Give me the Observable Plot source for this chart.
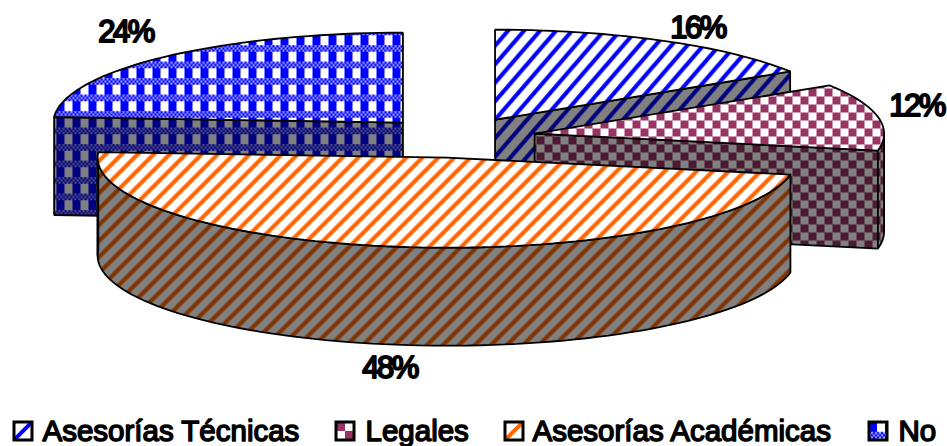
<!DOCTYPE html>
<html>
<head>
<meta charset="utf-8">
<script src="https://cdn.jsdelivr.net/npm/d3@7"></script>
<script src="https://cdn.jsdelivr.net/npm/@observablehq/plot@0.6"></script>
<style>
html,body{margin:0;padding:0;background:#fff}
svg{display:block}
svg text{font-family:"Liberation Sans",Arial,sans-serif}
</style>
</head>
<body>
<script>
// Data
const categories = ["Asesorías Técnicas", "Legales", "Asesorías Académicas", "No"];
const shares = [16, 12, 48, 24];

// Styles and layout
const W = 947, H = 446;
const CX = 456.5, CY = 137, RX = 349.5, RY = 90, DEPTH = 98, EXPLODE = 0.226;
const patternIds = ["pTec", "pLeg", "pAca", "pNo"];
const labelPos = [[697, 28], [916, 106], [389, 368], [125, 32]];
const legendSwatchX = [14, 336, 505, 869];
const legendTextX = [42, 365, 532, 898];

const rad = d => d * Math.PI / 180;
let acc = 0;
const slices = shares.map((v, i) => {
  const a0 = acc * 3.6; acc += v; const a1 = acc * 3.6;
  const mid = (a0 + a1) / 2;
  const ax = CX + EXPLODE * RX * Math.sin(rad(mid));
  const ay = CY - EXPLODE * RY * Math.cos(rad(mid));
  return {i, a0, a1, ax, ay, pattern: patternIds[i]};
});
const pt = (s, a, dz = 0) => ({x: s.ax + RX * Math.sin(rad(a)), y: s.ay - RY * Math.cos(rad(a)) + dz});
const arc = (s, a0, a1, dz = 0) => {
  const n = Math.max(2, Math.ceil(Math.abs(a1 - a0) / 2));
  return d3.range(n + 1).map(k => pt(s, a0 + (a1 - a0) * k / n, dz));
};
const closed = p => [...p, p[0]];
const face = (p, fill) => Plot.line(closed(p), {x: "x", y: "y", fill, stroke: "#000", strokeWidth: 1.8, strokeLinejoin: "miter", curve: "linear"});

const marks = [];
for (const s of [slices[3], slices[0], slices[1], slices[2]]) {
  const wallFill = `url(#${s.pattern}W)`;
  const apexTop = {x: s.ax, y: s.ay}, apexBot = {x: s.ax, y: s.ay + DEPTH};
  const wall = a => marks.push(face([apexTop, pt(s, a), pt(s, a, DEPTH), apexBot], wallFill));
  if (Math.sin(rad(s.a0)) < -1e-6) wall(s.a0);
  if (Math.sin(rad(s.a1)) > 1e-6) wall(s.a1);
  const o0 = Math.max(s.a0, 90), o1 = Math.min(s.a1, 270);
  if (o1 > o0) marks.push(face([...arc(s, o0, o1), ...arc(s, o1, o0, DEPTH)], wallFill));
  if (s.i === 2) { // left end of the large slice's rim, past 270 degrees
    marks.push(face([...arc(s, 270, s.a1), ...arc(s, s.a1, 270, DEPTH)], wallFill));
  }
  marks.push(face([apexTop, ...arc(s, s.a0, s.a1)], `url(#${s.pattern})`));
}

const labels = shares.map((v, i) => ({t: `${v}%`, x: labelPos[i][0], y: labelPos[i][1]}));
const legend = categories.map((c, i) => ({c, x: legendTextX[i], sx: legendSwatchX[i], id: patternIds[i]}));

const svg = Plot.plot({
  width: W, height: H, margin: 0,
  x: {domain: [0, W], range: [0, W], axis: null},
  y: {domain: [0, H], range: [0, H], axis: null},
  marks: [
    ...marks,
    Plot.text(labels, {x: "x", y: "y", text: "t", fontSize: 31, fill: "#000", stroke: "#000", strokeWidth: 2, textAnchor: "middle", className: "pct"}),
    ...legend.map(d => Plot.rect([d], {x1: "sx", x2: e => e.sx + 18, y1: () => 422, y2: () => 440, fill: `url(#${d.id}S)`, stroke: "#000", strokeWidth: 3})),
    Plot.text(legend, {x: "x", y: () => 431, text: "c", fontSize: 29.5, fill: "#000", stroke: "#000", strokeWidth: 1.5, textAnchor: "start"})
  ]
});

// Fill patterns
function head(id, pw, ph, tx, ty) {
  return `<pattern id="${id}" patternUnits="userSpaceOnUse" width="${pw}" height="${ph}" patternTransform="translate(${tx} ${ty})">`;
}
function stripes(id, fg, bg, pw, ph, sw, tx = 0, ty = 0) {
  return `${head(id, pw, ph, tx, ty)}
    <rect width="${pw}" height="${ph}" fill="${bg}"/>
    <path d="M${-pw/2} ${ph/2}L${pw/2} ${-ph/2}M0 ${ph}L${pw} 0M${pw/2} ${ph*1.5}L${pw*1.5} ${ph/2}" stroke="${fg}" stroke-width="${sw}"/>
  </pattern>`;
}
function checker(id, fg, bg, pw, ph, tx = 0, ty = 0) {
  return `${head(id, pw, ph, tx, ty)}
    <rect width="${pw}" height="${ph}" fill="${bg}"/>
    <rect width="${pw/2}" height="${ph/2}" fill="${fg}"/>
    <rect x="${pw/2}" y="${ph/2}" width="${pw/2}" height="${ph/2}" fill="${fg}"/>
  </pattern>`;
}
function plaid(id, fg, bg, mix, tx = 0, ty = 0) {
  let dots = "";
  for (let c = 0; c < 8; c++) for (let r = 0; r < 3; r++)
    if ((c + r) % 2 === 0) dots += `<rect x="${c * 2}" y="${10 + r * 6.5 / 3}" width="2" height="${6.5 / 3}" fill="${fg}"/>`;
  return `${head(id, 16, 16.5, tx, ty)}
    <rect width="16" height="16.5" fill="${bg}"/>
    <rect y="10" width="16" height="6.5" fill="${mix}"/>
    <rect x="0" y="0" width="8" height="10" fill="${fg}"/>${dots}
  </pattern>`;
}
const defs = [
  stripes("pTec", "#0000ff", "#fff", 16, 18.5, 4.1, 5.7, 0),
  stripes("pTecW", "#000080", "#808080", 16, 18.5, 4.1, 5.7, 0),
  stripes("pTecS", "#0000ff", "#fff", 18, 18, 4, 14, 422),
  checker("pLeg", "#993366", "#fff", 16, 16),
  checker("pLegW", "#4d1a33", "#808080", 16, 16),
  checker("pLegS", "#993366", "#fff", 18, 18, 336, 422),
  stripes("pAca", "#ff6600", "#fff", 16, 16, 4.1, 3, 0),
  stripes("pAcaW", "#803300", "#808080", 16, 16, 4.1, 3, 0),
  stripes("pAcaS", "#ff6600", "#fff", 18, 18, 4, 505, 422),
  plaid("pNo", "#0000ff", "#fff", "#9999ff", 8, 1.75),
  plaid("pNoW", "#000080", "#808080", "#4d4d80", 8, 1.75),
  plaid("pNoS", "#0000ff", "#fff", "#9999ff", 869, 422)
].join("");
svg.insertAdjacentHTML("afterbegin", `<defs>${defs}<style>.pct text{letter-spacing:-2.5px}</style></defs>`);
document.body.appendChild(svg);
</script>
</body>
</html>
